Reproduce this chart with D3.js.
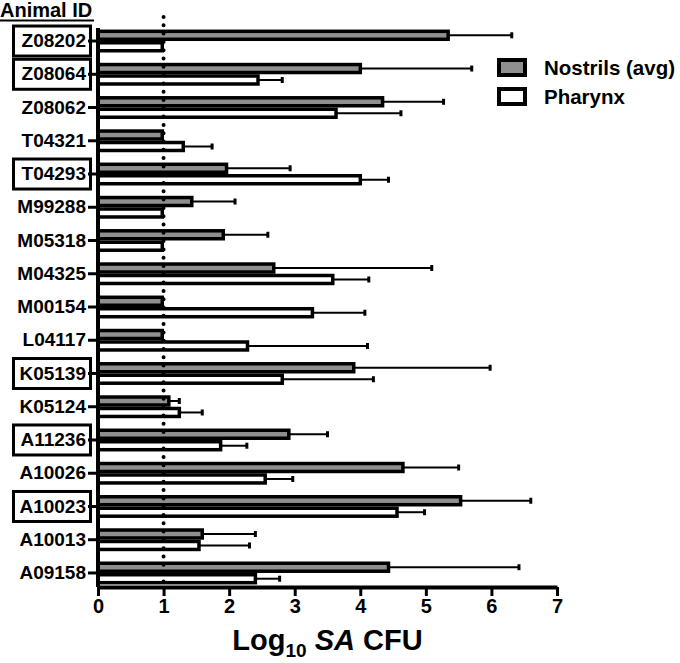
<!DOCTYPE html>
<html>
<head>
<meta charset="utf-8">
<script src="https://cdn.jsdelivr.net/npm/d3@7"></script>
<style>
  body { margin: 0; background: #fff; }
  text { font-family: "Liberation Sans", Arial, sans-serif; font-weight: bold; fill: #000; }
</style>
</head>
<body>
<div id="chart"></div>
<script>
// Animal IDs, top to bottom
const categories = ['Z08202', 'Z08064', 'Z08062', 'T04321', 'T04293', 'M99288', 'M05318', 'M04325',
  'M00154', 'L04117', 'K05139', 'K05124', 'A11236', 'A10026', 'A10023', 'A10013', 'A09158'];
// IDs drawn with a box round the label
const boxed = ['Z08202', 'Z08064', 'T04293', 'K05139', 'A11236', 'A10023'];

// Log10 SA CFU means and upper error bar ends (null = no error bar)
const nostrils = [5.34, 4.00, 4.34, 0.98, 1.96, 1.43, 1.91, 2.68, 0.98, 0.98, 3.90, 1.08, 2.91, 4.65, 5.53, 1.59, 4.43];
const nostrilsUpper = [6.31, 5.70, 5.27, null, 2.93, 2.09, 2.59, 5.09, null, null, 5.98, 1.24, 3.50, 5.50, 6.60, 2.40, 6.42];
const pharynx = [0.98, 2.44, 3.63, 1.30, 4.00, 0.98, 0.98, 3.58, 3.27, 2.28, 2.81, 1.24, 1.87, 2.55, 4.56, 1.54, 2.40];
const pharynxUpper = [null, 2.81, 4.62, 1.74, 4.43, null, null, 4.13, 4.07, 4.11, 4.20, 1.59, 2.27, 2.97, 4.98, 2.31, 2.77];

const xTicks = [0, 1, 2, 3, 4, 5, 6, 7];
const series = ['Nostrils (avg)', 'Pharynx'];
const fills = ['#8f8f8f', '#ffffff'];

const width = 680;
const height = 663;
const font = '"Liberation Sans", Arial, sans-serif';

const svg = d3.select('#chart').append('svg')
  .attr('width', width)
  .attr('height', height);

// scales
const x = d3.scaleLinear().domain([0, 7]).range([98, 557]);
const y = d3.scaleBand()
  .domain(categories)
  .range([24.4, 589.6])
  .paddingInner(0.31)
  .paddingOuter(0.155);
const ySub = d3.scaleBand().domain(series).range([0, y.bandwidth()]);

const rows = categories.map((id, i) => ({
  id,
  values: [
    { s: series[0], v: nostrils[i], up: nostrilsUpper[i] },
    { s: series[1], v: pharynx[i], up: pharynxUpper[i] }
  ]
}));

const groups = svg.append('g').selectAll('g')
  .data(rows)
  .enter()
  .append('g')
  .attr('transform', d => `translate(0,${y(d.id)})`);

// error bars behind bars
groups.selectAll('.err')
  .data(d => d.values.filter(v => v.up != null))
  .enter()
  .append('g')
  .each(function (d) {
    const g = d3.select(this);
    const cy = ySub(d.s) + ySub.bandwidth() / 2;
    g.append('line')
      .attr('x1', x(d.v)).attr('x2', x(d.up))
      .attr('y1', cy).attr('y2', cy)
      .attr('stroke', '#000').attr('stroke-width', 2);
    g.append('line')
      .attr('x1', x(d.up)).attr('x2', x(d.up))
      .attr('y1', cy - 3).attr('y2', cy + 3)
      .attr('stroke', '#000').attr('stroke-width', 3);
  });

// bars
groups.selectAll('rect')
  .data(d => d.values)
  .enter()
  .append('rect')
  .attr('x', x(0))
  .attr('y', d => ySub(d.s) + 1.75)
  .attr('width', d => x(d.v) - x(0))
  .attr('height', ySub.bandwidth() - 3.5)
  .attr('fill', (d, i) => fills[i])
  .attr('stroke', '#000')
  .attr('stroke-width', 3.5);

// dotted line at 1
svg.append('line')
  .attr('x1', x(1)).attr('x2', x(1))
  .attr('y1', 17).attr('y2', 586)
  .attr('stroke', '#000')
  .attr('stroke-width', 4)
  .attr('stroke-linecap', 'round')
  .attr('stroke-dasharray', '0,8.3');

// x axis
const xAxis = svg.append('g')
  .attr('transform', `translate(0,587)`)
  .call(d3.axisBottom(x).tickValues(xTicks).tickFormat(d3.format('d'))
    .tickSize(9).tickSizeOuter(0).tickPadding(3));
xAxis.select('.domain').attr('stroke-width', 4);
xAxis.selectAll('.tick line').attr('stroke-width', 3);
xAxis.selectAll('.tick text')
  .style('font-size', '20px')
  .style('font-family', font)
  .style('font-weight', 'bold');

// y axis
const yAxis = svg.append('g')
  .attr('transform', `translate(${x(0)},0)`)
  .call(d3.axisLeft(y).tickSize(10).tickSizeOuter(0).tickPadding(2));
yAxis.select('.domain').attr('stroke-width', 4)
  .attr('d', `M0,28V587`);
yAxis.selectAll('.tick line').attr('stroke-width', 3);
yAxis.selectAll('.tick text')
  .style('font-size', '19px')
  .style('font-family', font)
  .style('font-weight', 'bold');

// boxes round some labels
svg.append('g').selectAll('rect')
  .data(boxed)
  .enter()
  .append('rect')
  .attr('x', 13.5)
  .attr('y', d => y(d) + y.bandwidth() / 2 - 15)
  .attr('width', 77)
  .attr('height', 30)
  .attr('fill', 'none')
  .attr('stroke', '#000')
  .attr('stroke-width', 3);

// "Animal ID" header
svg.append('text')
  .attr('x', 0).attr('y', 17)
  .style('font-size', '20px')
  .text('Animal ID');
svg.append('line')
  .attr('x1', 0).attr('x2', 94)
  .attr('y1', 20.5).attr('y2', 20.5)
  .attr('stroke', '#000').attr('stroke-width', 2);

// axis title
const title = svg.append('text')
  .attr('x', (x(0) + x(7)) / 2)
  .attr('y', 650)
  .attr('text-anchor', 'middle')
  .style('font-size', '29px');
title.append('tspan').text('Log');
title.append('tspan').attr('dy', 7).style('font-size', '19px').text('10');
title.append('tspan').attr('dy', -7).text(' ');
title.append('tspan').style('font-style', 'italic').text('SA');
title.append('tspan').text(' CFU');

// legend
const legend = svg.append('g').attr('transform', 'translate(499,60)');
series.forEach((s, i) => {
  const g = legend.append('g').attr('transform', `translate(0,${i * 29})`);
  g.append('rect')
    .attr('width', 26).attr('height', 15)
    .attr('fill', fills[i])
    .attr('stroke', '#000').attr('stroke-width', 4);
  g.append('text')
    .attr('x', 45).attr('y', 8)
    .attr('dy', '0.35em')
    .style('font-size', '20.5px')
    .text(s);
});
</script>
</body>
</html>
